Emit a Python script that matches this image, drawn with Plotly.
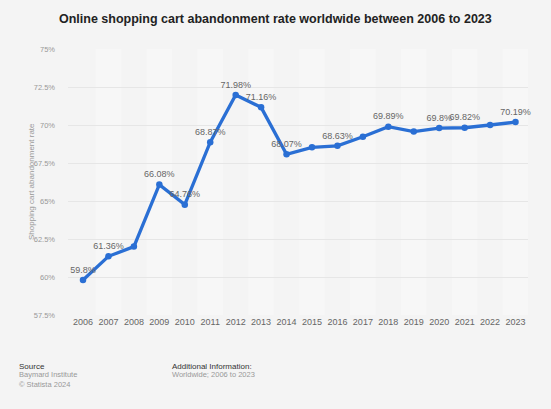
import plotly.graph_objects as go

years = [2006, 2007, 2008, 2009, 2010, 2011, 2012, 2013, 2014, 2015,
         2016, 2017, 2018, 2019, 2020, 2021, 2022, 2023]
rates = [59.8, 61.36, 62.0, 66.08, 64.76, 68.87, 71.98, 71.16, 68.07, 68.53,
         68.63, 69.23, 69.89, 69.57, 69.8, 69.82, 70.0, 70.19]
show_label = [True, True, False, True, True, True, True, True, True, False,
              True, False, True, False, True, True, False, True]
y_ticks = [57.5, 60, 62.5, 65, 67.5, 70, 72.5, 75]
y_tick_labels = ["57.5%", "60%", "62.5%", "65%", "67.5%", "70%", "72.5%", "75%"]

W, H = 551, 409
L, R, T, B = 68, 23, 49, 94
pw, ph = W - L - R, H - T - B

def px(xp):
    return (xp - L) / pw

def py(yp):
    return (H - B - yp) / ph

labels = [f"{v:g}%" if s else "" for v, s in zip(rates, show_label)]

fig = go.Figure()
fig.add_trace(go.Scatter(
    x=years, y=rates, mode="lines+markers+text",
    line=dict(color="#2a6fd4", width=3.3),
    marker=dict(color="#2a6fd4", size=6.5),
    text=labels, textposition="top center",
    textfont=dict(family="Liberation Sans, Arial", size=9, color="#666666"),
    cliponaxis=False, hoverinfo="x+y",
))

shapes = []
for i, yr in enumerate(years):
    if i % 2 == 1:
        shapes.append(dict(type="rect", xref="x", yref="paper",
                           x0=yr - 0.5, x1=yr + 0.5, y0=0, y1=1,
                           fillcolor="#f7f7f7", line=dict(width=0), layer="below"))

annotations = [
    dict(text="<b>Online shopping cart abandonment rate worldwide between 2006 to 2023</b>",
         xref="paper", yref="paper", x=px(275.5), y=py(19), xanchor="center", yanchor="middle",
         showarrow=False, font=dict(family="Liberation Sans, Arial", size=12.5, color="#222222")),
    dict(text="Shopping cart abandonment rate", textangle=-90,
         xref="paper", yref="paper", x=px(31), y=py(182), xanchor="center", yanchor="middle",
         showarrow=False, font=dict(family="Liberation Sans, Arial", size=8, color="#999999")),
    dict(text="Source", xref="paper", yref="paper", x=px(17), y=py(366),
         xanchor="left", yanchor="middle", showarrow=False,
         font=dict(family="Liberation Sans, Arial", size=8, color="#333333")),
    dict(text="Baymard Institute", xref="paper", yref="paper", x=px(17), y=py(375),
         xanchor="left", yanchor="middle", showarrow=False,
         font=dict(family="Liberation Sans, Arial", size=7.5, color="#999999")),
    dict(text="© Statista 2024", xref="paper", yref="paper", x=px(17), y=py(384),
         xanchor="left", yanchor="middle", showarrow=False,
         font=dict(family="Liberation Sans, Arial", size=7.5, color="#999999")),
    dict(text="Additional Information:", xref="paper", yref="paper", x=px(170), y=py(366),
         xanchor="left", yanchor="middle", showarrow=False,
         font=dict(family="Liberation Sans, Arial", size=8, color="#333333")),
    dict(text="Worldwide; 2006 to 2023", xref="paper", yref="paper", x=px(170), y=py(375),
         xanchor="left", yanchor="middle", showarrow=False,
         font=dict(family="Liberation Sans, Arial", size=7.5, color="#999999")),
]

fig.update_layout(
    width=W, height=H,
    margin=dict(l=L, r=R, t=T, b=B, pad=0),
    paper_bgcolor="#f4f4f4", plot_bgcolor="#f4f4f4",
    showlegend=False,
    shapes=shapes, annotations=annotations,
    font=dict(family="Liberation Sans, Arial"),
    xaxis=dict(range=[years[0] - 0.59, years[-1] + 0.49], tickmode="array",
               tickvals=years, ticktext=[str(y) for y in years],
               showgrid=False, zeroline=False, showline=False, ticks="",
               tickfont=dict(size=9, color="#666666")),
    yaxis=dict(range=[y_ticks[0], y_ticks[-1]], tickmode="array",
               tickvals=y_ticks, ticktext=y_tick_labels,
               showgrid=True, gridcolor="#e6e6e6", gridwidth=1,
               zeroline=False, showline=False, ticks="", ticklabelstandoff=12,
               tickfont=dict(size=7.5, color="#999999")),
)

fig.write_html("out.html", config={"displayModeBar": False},
               post_script="document.body.style.margin='0';document.body.style.background='#f4f4f4';")
